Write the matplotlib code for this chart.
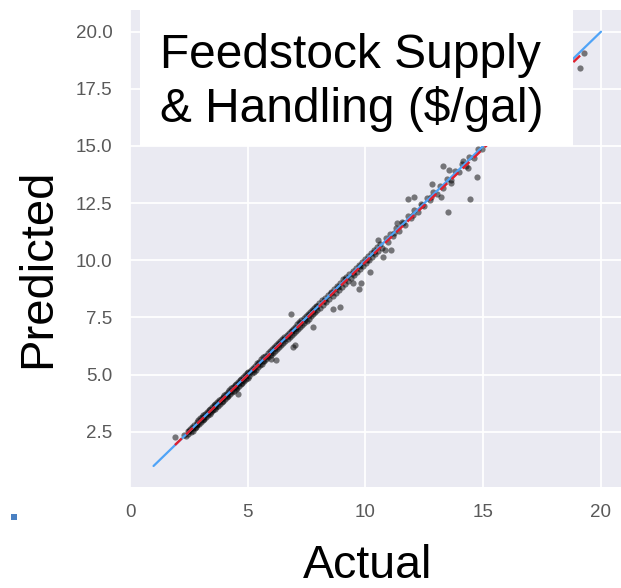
import numpy as np
import matplotlib
matplotlib.use("Agg")
import matplotlib.pyplot as plt
from matplotlib.patches import Rectangle
import seaborn as sns

# Predicted vs. actual cost, feedstock supply & handling ($/gal)
actual_low = [
    1.91, 2.30, 2.38, 2.45, 2.48, 2.52, 2.55, 2.58, 2.63, 2.66,
    2.68, 2.71, 2.74, 2.79, 2.83, 2.85, 2.86, 2.90, 2.94, 2.97,
    3.00, 3.01, 3.05, 3.08, 3.12, 3.15, 3.16, 3.19, 3.23, 3.27,
    3.30, 3.32, 3.34, 3.38, 3.41, 3.45, 3.48, 3.49, 3.52, 3.56,
    3.60, 3.62, 3.63, 3.67, 3.71, 3.74, 3.78, 3.80, 3.82, 3.85,
    3.89, 3.93, 3.95, 3.96, 4.00, 4.04, 4.07, 4.11, 4.12, 4.15,
    4.18, 4.22, 4.26, 4.28, 4.29, 4.33, 4.37, 4.40, 4.44, 4.45,
    4.48, 4.51, 4.55, 4.58, 4.59, 4.62, 4.62, 4.66, 4.70, 4.73,
    4.77, 4.78, 4.81, 4.84, 4.88, 4.92, 4.93, 4.95, 4.99,
]
predicted_low = [
    2.27, 2.36, 2.31, 2.52, 2.40, 2.55, 2.61, 2.47, 2.70, 2.55,
    2.66, 2.78, 2.64, 2.72, 2.93, 2.84, 2.78, 2.99, 2.85, 3.08,
    3.02, 2.92, 3.14, 2.99, 3.22, 3.13, 3.05, 3.27, 3.13, 3.36,
    3.21, 3.33, 3.44, 3.27, 3.50, 3.36, 3.46, 3.58, 3.43, 3.66,
    3.48, 3.64, 3.72, 3.58, 3.80, 3.63, 3.88, 3.79, 3.71, 3.93,
    3.80, 4.03, 3.97, 3.86, 4.09, 3.92, 4.17, 4.00, 4.10, 4.24,
    4.07, 4.31, 4.14, 4.30, 4.39, 4.22, 4.46, 4.29, 4.53, 4.44,
    4.36, 4.60, 4.43, 4.17, 4.68, 4.50, 4.63, 4.76, 4.58, 4.82,
    4.65, 4.76, 4.90, 4.72, 4.97, 4.80, 4.95, 5.05, 4.87,
]

actual_mid = [
    5.03, 5.07, 5.10, 5.12, 5.16, 5.21, 5.25, 5.28, 5.30, 5.34,
    5.39, 5.43, 5.45, 5.48, 5.52, 5.57, 5.61, 5.63, 5.66, 5.70,
    5.75, 5.79, 5.80, 5.84, 5.88, 5.93, 5.97, 5.98, 6.00, 6.02,
    6.06, 6.11, 6.15, 6.16, 6.20, 6.21, 6.24, 6.29, 6.33, 6.34,
    6.38, 6.42, 6.47, 6.51, 6.52, 6.56, 6.60, 6.65, 6.69, 6.70,
    6.74, 6.78, 6.83, 6.85, 6.87, 6.88, 6.92, 6.92, 6.96, 6.99,
    7.01, 7.05, 7.06, 7.10, 7.14, 7.19, 7.23, 7.24, 7.28, 7.32,
    7.37, 7.41, 7.42, 7.46, 7.50, 7.55, 7.59, 7.60, 7.64, 7.68,
    7.73, 7.77, 7.77, 7.78, 7.82, 7.86, 7.91, 7.95, 7.96,
]
predicted_mid = [
    5.13, 4.94, 5.11, 5.20, 5.05, 5.30, 5.12, 5.26, 5.38, 5.22,
    5.49, 5.31, 5.47, 5.56, 5.40, 5.66, 5.48, 5.61, 5.75, 5.58,
    5.83, 5.66, 5.82, 5.94, 5.76, 6.02, 5.85, 5.96, 5.70, 6.11,
    5.93, 6.20, 6.02, 6.18, 6.29, 5.63, 6.12, 6.38, 6.20, 6.32,
    6.47, 6.30, 6.56, 6.38, 6.54, 6.64, 6.47, 6.75, 6.56, 6.68,
    6.83, 6.65, 6.92, 7.63, 6.74, 6.90, 6.21, 7.01, 6.83, 6.28,
    7.10, 6.92, 7.04, 7.19, 7.00, 7.28, 7.10, 7.26, 7.37, 7.18,
    7.46, 7.27, 7.40, 7.55, 7.36, 7.64, 7.45, 7.62, 7.73, 7.55,
    7.82, 7.09, 7.63, 7.76, 7.91, 7.72, 8.00, 7.81, 7.98,
]

actual_upper = [
    8.02, 8.08, 8.14, 8.20, 8.25, 8.27, 8.33, 8.40, 8.46, 8.53,
    8.55, 8.60, 8.62, 8.67, 8.73, 8.80, 8.85, 8.86, 8.90, 8.93,
    8.99, 9.06, 9.12, 9.15, 9.19, 9.25, 9.32, 9.38, 9.45, 9.45,
    9.47, 9.51, 9.58, 9.64, 9.71, 9.72, 9.75, 9.77, 9.80, 9.84,
    9.90, 9.97, 10.03, 10.05, 10.10, 10.16, 10.19, 10.23, 10.29, 10.35,
    10.36, 10.42, 10.49, 10.54, 10.55,
]
predicted_upper = [
    8.12, 7.93, 8.24, 8.06, 8.23, 8.36, 8.19, 8.49, 8.31, 8.62,
    8.57, 8.45, 7.85, 8.76, 8.58, 8.89, 8.83, 8.71, 7.96, 9.02,
    8.84, 9.16, 8.97, 9.17, 9.28, 9.10, 9.41, 9.23, 9.43, 9.54,
    8.99, 9.36, 9.67, 9.48, 9.81, 8.74, 9.77, 9.62, 9.02, 9.93,
    9.75, 10.07, 9.88, 10.03, 10.20, 10.01, 9.47, 10.32, 10.14, 10.37,
    10.46, 10.27, 10.59, 10.89, 10.40,
]

actual_high = [
    10.62, 10.70, 10.76, 10.82, 10.85, 10.95, 11.06, 11.08, 11.18, 11.20,
    11.30, 11.32, 11.42, 11.55, 11.60, 11.68, 11.79, 11.82, 11.95, 12.00,
    12.07, 12.08, 12.22, 12.35, 12.40, 12.48, 12.62, 12.75, 12.80, 12.84,
    12.88, 13.02, 13.15, 13.20, 13.28, 13.30, 13.45, 13.49, 13.55, 13.62,
    13.63, 13.80, 13.95, 14.10, 14.13, 14.25, 14.34, 14.40, 14.44, 14.60,
    14.72, 14.78, 14.95,
    15.30, 15.80, 16.40, 17.10, 17.90, 18.60, 19.12, 19.30,
]
predicted_high = [
    10.72, 10.55, 10.16, 10.45, 10.96, 10.80, 11.17, 10.43, 11.05, 11.21,
    11.41, 11.62, 11.28, 11.66, 11.62, 11.55, 12.68, 11.92, 11.83, 11.98,
    12.75, 12.18, 12.10, 12.46, 12.42, 12.36, 12.72, 12.63, 12.79, 13.33,
    12.98, 12.90, 13.26, 12.75, 14.14, 13.18, 13.56, 12.12, 13.96, 13.52,
    13.38, 13.90, 13.85, 14.20, 14.36, 14.12, 14.04, 14.50, 12.68, 14.48,
    13.64, 14.88, 14.85,
    15.40, 15.70, 16.50, 17.00, 18.00, 18.50, 18.42, 19.05,
]

# Ideal (predicted == actual) reference line extent
identity_range = [1, 20]

x_ticks = [0, 5, 10, 15, 20]
y_ticks = [2.5, 5.0, 7.5, 10.0, 12.5, 15.0, 17.5, 20.0]
title_lines = ["Feedstock Supply", "& Handling ($/gal)"]

actual = np.array(actual_low + actual_mid + actual_upper + actual_high)
predicted = np.array(predicted_low + predicted_mid + predicted_upper + predicted_high)

sns.set_style("darkgrid")
plt.rcParams["font.family"] = ["Liberation Sans", "DejaVu Sans"]

W, H = 621, 588
fig = plt.figure(figsize=(W / 100, H / 100), dpi=100)
ax = fig.add_axes([130 / W, 1 - 487 / H, 491 / W, 477 / H])
ax.set_facecolor("#EAEAF2")
ax.grid(True, color="white", linewidth=1.3)
for s in ax.spines.values():
    s.set_visible(False)

# scatter of model predictions
ax.scatter(actual, predicted, s=20, c="black", alpha=0.5, linewidths=0, zorder=2)

# ideal line
ax.plot(identity_range, identity_range, color="#4FA3F7", linewidth=1.6, zorder=3)

# least-squares fit through the predictions
slope, intercept = np.polyfit(actual, predicted, 1)
fit_x = np.array([actual.min(), actual.max()])
ax.plot(fit_x, slope * fit_x + intercept, color="#E0202E", linewidth=1.7,
        dashes=(4, 2.5), zorder=4)

ax.set_xlim(0, 20.85)
ax.set_ylim(0.08, 20.95)
ax.set_xticks(x_ticks)
ax.set_xticklabels([f"{v:g}" for v in x_ticks])
ax.set_yticks(y_ticks)
ax.set_yticklabels([f"{v:.1f}" for v in y_ticks])
ax.tick_params(axis="both", length=0, labelsize=13.5, labelcolor="#595959")
ax.tick_params(axis="x", pad=12)
ax.tick_params(axis="y", pad=12.5)

# title panel inside the plot area
box_x0 = (140 - 130) / 491
box_x1 = (573 - 130) / 491
box_y0 = (487 - 146) / 477
ax.add_patch(Rectangle((box_x0, box_y0), box_x1 - box_x0, 1 - box_y0,
                       transform=ax.transAxes, facecolor="white",
                       edgecolor="none", zorder=5, clip_on=False))
text_x = (160 - 130) / 491
for line, base_px in zip(title_lines, [68, 121.5]):
    ax.text(text_x, (487 - base_px) / 477, line, transform=ax.transAxes,
            fontsize=34.5, color="black", ha="left", va="baseline", zorder=6)

# axis titles
fig.text(367.5 / W, 1 - 578 / H, "Actual", fontsize=33.5, color="black",
         ha="center", va="baseline")
fig.text(50 / W, 1 - 268.5 / H, "Predicted", fontsize=34, color="black",
         rotation=90, rotation_mode="anchor", ha="center", va="baseline")

# small bullet marker at lower left
fig.patches.append(Rectangle((11 / W, 1 - 520 / H), 6 / W, 6 / H,
                             transform=fig.transFigure, facecolor="#4A80C2",
                             edgecolor="none"))

fig.savefig("out.png", dpi=100)
